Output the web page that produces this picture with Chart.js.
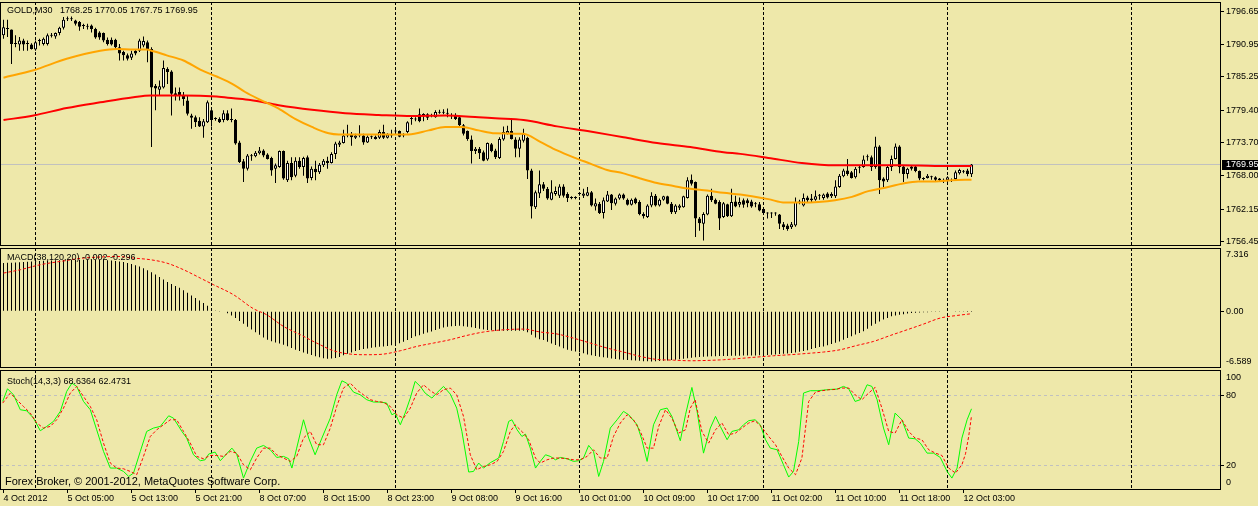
<!DOCTYPE html>
<html lang="en">
<head>
  <meta charset="UTF-8">
  <title>GOLD,M30</title>
  <script src="https://cdn.jsdelivr.net/npm/chart.js"></script>
  <style>
    body {
      margin: 0;
      background-color: #eee8aa;
      width: 1258px;
      height: 506px;
      overflow: hidden;
      position: relative;
      font-family: "Liberation Sans", Arial, sans-serif;
    }
    canvas { position: absolute; left: 0; }
    .lbl {
      position: absolute;
      font-size: 9px;
      line-height: 11px;
      color: #000;
      white-space: pre;
    }
  </style>
</head>
<body>
  <canvas id="priceChart" width="1258" height="247" style="top:0px"></canvas>
  <canvas id="macdChart" width="1258" height="122" style="top:247px"></canvas>
  <canvas id="stochChart" width="1258" height="137" style="top:369px"></canvas>

  <div class="lbl" style="left:7px;top:5px">GOLD,M30   1768.25 1770.05 1767.75 1769.95</div>
  <div class="lbl" style="left:7px;top:252px">MACD(38,120,20) -0.002 -0.296</div>
  <div class="lbl" style="left:7px;top:376px">Stoch(14,3,3) 68.6364 62.4731</div>
  <div class="lbl" style="left:5px;top:475px;font-size:11px;line-height:13px">Forex Broker, © 2001-2012, MetaQuotes Software Corp.</div>

  <script>
    // ---- data (bar index 0 = 4 Oct 2012, M30 bars) ----
    const open = [
      1792.5,1793.6,1793.5,1791.1,1790.9,1791.6,1791.1,1790.9,1790.0,1791.5,
      1791.0,1791.0,1792.4,1792.3,1792.9,1793.8,1795.3,1795.3,1795.1,1794.8,
      1794.3,1794.1,1794.2,1793.6,1793.0,1792.9,1791.7,1791.7,1791.7,1790.4,
      1789.6,1789.0,1788.6,1789.8,1789.8,1790.7,1791.3,1790.1,1783.7,1783.0,
      1783.4,1786.6,1786.2,1782.4,1782.6,1782.0,1781.1,1778.5,1778.2,1777.6,
      1776.6,1777.3,1779.4,1778.0,1777.9,1777.7,1778.9,1777.8,1777.7,1773.8,
      1770.5,1769.2,1771.4,1771.4,1771.9,1772.4,1771.7,1771.1,1769.2,1769.5,
      1772.3,1767.2,1770.2,1768.0,1770.6,1769.5,1771.2,1767.6,1769.2,1768.6,
      1769.8,1770.6,1770.2,1771.8,1773.4,1773.7,1775.0,1775.2,1774.6,1775.1,
      1775.0,1773.8,1774.8,1774.8,1774.6,1775.6,1774.6,1775.1,1775.8,1775.8,
      1775.1,1775.6,1777.9,1777.8,1778.7,1778.6,1778.7,1778.4,1778.2,1779.0,
      1779.0,1779.0,1778.6,1778.5,1778.2,1776.8,1775.8,1774.3,1772.3,1772.7,
      1772.1,1770.8,1773.5,1772.4,1771.1,1774.3,1775.3,1775.8,1774.3,1772.7,
      1774.1,1774.6,1768.9,1762.5,1764.9,1766.5,1765.7,1763.8,1764.8,1764.5,
      1766.1,1764.8,1764.2,1764.2,1764.9,1764.5,1764.5,1765.1,1762.6,1763.1,
      1761.5,1763.5,1764.7,1763.1,1764.0,1764.7,1763.8,1762.9,1764.0,1763.4,
      1761.3,1760.8,1762.8,1764.5,1762.8,1763.8,1764.4,1763.1,1761.6,1762.4,
      1762.5,1764.1,1767.3,1766.9,1760.5,1759.6,1761.2,1764.5,1763.8,1763.4,
      1760.8,1763.0,1760.9,1763.5,1762.9,1763.7,1763.7,1763.5,1763.1,1763.0,
      1762.2,1761.5,1761.5,1761.5,1761.2,1759.5,1759.3,1759.0,1759.3,1763.3,
      1762.8,1764.2,1764.0,1763.8,1764.6,1764.1,1764.9,1764.4,1764.4,1766.0,
      1767.9,1768.9,1768.6,1767.7,1769.5,1769.5,1771.3,1771.2,1769.5,1773.1,
      1767.5,1767.2,1769.5,1770.9,1773.1,1769.6,1768.3,1769.6,1769.6,1768.8,
      1767.5,1767.6,1767.8,1767.7,1767.5,1767.2,1767.2,1767.2,1767.4,1768.4,
      1768.8,1768.9,1768.25
    ];
    const high = [
      1795.2,1795.2,1793.5,1792.5,1792.2,1791.9,1791.6,1791.1,1791.6,1791.9,
      1792.1,1792.8,1792.9,1793.0,1794.0,1795.7,1795.8,1795.8,1795.2,1795.0,
      1794.5,1794.5,1794.4,1793.8,1793.2,1793.0,1792.1,1792.1,1791.9,1791.0,
      1789.8,1789.3,1789.8,1790.1,1791.9,1792.3,1791.6,1790.4,1784.0,1784.6,
      1788.1,1786.9,1786.4,1783.4,1783.4,1782.6,1782.0,1778.8,1778.5,1778.2,
      1777.9,1781.1,1779.7,1778.2,1778.2,1779.4,1779.4,1779.7,1777.9,1774.1,
      1770.9,1771.8,1771.8,1772.3,1773.0,1772.6,1771.9,1771.3,1770.1,1772.4,
      1772.4,1770.6,1771.2,1771.2,1771.2,1771.3,1771.5,1769.6,1770.6,1770.2,
      1770.9,1771.3,1772.1,1773.9,1774.1,1776.0,1776.9,1775.6,1775.3,1776.8,
      1775.3,1775.0,1775.0,1775.0,1776.0,1776.9,1775.4,1776.0,1776.0,1775.9,
      1775.4,1777.5,1778.5,1778.2,1779.7,1778.9,1778.9,1778.8,1779.4,1779.5,
      1779.6,1779.7,1778.9,1778.9,1778.5,1777.0,1775.9,1775.0,1773.0,1773.0,
      1772.4,1773.8,1773.7,1772.7,1774.7,1776.6,1776.7,1777.7,1774.7,1774.7,
      1776.2,1774.8,1769.2,1765.4,1768.9,1766.9,1766.0,1767.2,1766.1,1766.5,
      1766.5,1765.1,1764.4,1764.4,1765.1,1765.7,1766.0,1765.3,1764.0,1763.4,
      1764.2,1765.3,1764.8,1764.2,1764.9,1764.9,1764.0,1764.0,1764.2,1763.7,
      1761.6,1763.0,1765.1,1764.8,1764.0,1764.5,1764.5,1763.4,1763.0,1763.0,
      1764.5,1767.7,1768.2,1767.0,1760.8,1761.6,1764.7,1765.7,1764.0,1763.7,
      1763.4,1763.1,1765.7,1764.5,1764.2,1764.0,1764.0,1763.8,1763.4,1763.4,
      1762.5,1761.6,1761.6,1761.6,1761.3,1759.9,1759.6,1759.9,1764.2,1763.8,
      1764.9,1764.5,1764.8,1765.4,1764.8,1764.9,1765.1,1765.1,1767.2,1768.3,
      1769.2,1770.9,1768.8,1769.5,1769.8,1771.5,1771.7,1771.5,1774.8,1773.3,
      1767.7,1769.8,1771.5,1773.6,1773.3,1769.8,1769.4,1769.8,1769.8,1768.9,
      1767.7,1768.3,1768.0,1767.9,1767.6,1767.5,1767.9,1767.5,1768.9,1769.2,
      1769.0,1769.2,1770.05
    ];
    const low = [
      1791.9,1792.2,1787.5,1790.4,1789.8,1789.8,1789.8,1790.0,1789.8,1790.7,
      1790.7,1790.7,1792.1,1791.9,1792.5,1793.5,1795.0,1795.0,1794.2,1793.3,
      1793.6,1793.5,1793.0,1791.9,1791.7,1791.3,1790.7,1790.7,1790.1,1788.1,
      1788.1,1788.1,1788.2,1789.0,1789.6,1790.4,1787.8,1773.0,1779.4,1782.0,
      1783.2,1784.0,1778.5,1781.1,1781.1,1780.2,1778.5,1776.2,1776.5,1776.5,
      1774.6,1777.2,1776.6,1777.6,1777.2,1777.3,1777.6,1777.3,1773.4,1770.2,
      1766.9,1768.9,1770.6,1771.2,1771.7,1771.2,1770.8,1768.0,1766.7,1769.4,
      1767.3,1766.9,1767.2,1767.7,1769.2,1768.0,1766.7,1767.2,1767.2,1768.3,
      1769.5,1769.2,1770.1,1770.9,1773.0,1773.6,1774.7,1773.2,1774.4,1774.7,
      1773.4,1773.7,1774.4,1774.3,1774.4,1774.4,1774.5,1774.6,1775.4,1774.7,
      1774.7,1775.4,1776.9,1777.5,1777.3,1777.5,1777.7,1778.2,1778.1,1778.8,
      1778.7,1778.2,1777.9,1777.7,1776.6,1775.0,1774.1,1770.1,1771.8,1770.9,
      1770.5,1770.6,1772.1,1770.9,1770.9,1774.1,1775.2,1774.3,1771.2,1771.2,
      1773.8,1767.4,1760.5,1762.2,1764.1,1765.3,1763.8,1763.7,1764.5,1764.1,
      1764.2,1763.4,1763.9,1763.9,1764.5,1764.1,1764.4,1762.6,1761.9,1761.3,
      1760.5,1763.4,1762.0,1762.8,1763.8,1763.8,1762.8,1762.8,1763.0,1761.1,
      1760.5,1760.6,1762.5,1762.6,1762.6,1763.6,1763.0,1761.3,1761.3,1762.0,
      1762.4,1764.0,1766.3,1757.3,1758.4,1756.7,1761.1,1763.4,1763.0,1758.5,
      1760.6,1760.8,1760.8,1762.5,1762.5,1762.4,1762.5,1762.4,1762.5,1761.8,
      1761.3,1760.5,1760.6,1761.0,1758.7,1758.5,1758.4,1758.7,1759.1,1763.0,
      1762.6,1763.4,1763.4,1763.6,1763.8,1763.8,1764.0,1764.1,1764.1,1765.9,
      1767.7,1768.0,1767.5,1767.5,1768.4,1769.4,1770.6,1768.8,1769.2,1764.8,
      1766.0,1766.9,1768.8,1770.8,1768.4,1766.9,1767.5,1768.9,1768.6,1767.2,
      1767.2,1767.5,1767.3,1767.0,1766.9,1766.7,1766.9,1766.9,1767.2,1768.2,
      1768.4,1767.9,1767.75
    ];
    const close = [
      1793.9,1793.7,1791.0,1791.0,1791.6,1790.9,1791.0,1790.1,1791.3,1791.6,
      1791.9,1792.5,1792.5,1792.9,1793.8,1795.2,1795.4,1795.4,1794.5,1794.0,
      1794.1,1794.0,1793.6,1792.1,1792.1,1791.6,1791.0,1790.9,1790.4,1789.3,
      1789.0,1788.4,1789.3,1789.3,1791.6,1791.5,1790.1,1783.4,1783.2,1783.6,
      1786.8,1786.1,1782.3,1782.0,1782.0,1781.4,1778.8,1778.1,1777.3,1776.6,
      1777.5,1780.8,1777.7,1777.9,1777.3,1778.9,1777.7,1777.7,1773.6,1770.4,
      1769.2,1771.5,1771.5,1772.0,1772.4,1771.5,1770.9,1768.9,1769.8,1772.3,
      1767.5,1770.2,1767.7,1770.6,1769.5,1771.1,1767.5,1769.2,1768.6,1769.9,
      1770.6,1770.2,1771.8,1773.6,1773.8,1775.0,1775.1,1774.7,1775.0,1775.0,
      1773.8,1774.8,1774.7,1774.4,1775.6,1774.6,1775.2,1775.0,1775.7,1774.8,
      1775.0,1777.3,1778.0,1777.9,1777.5,1778.7,1778.1,1778.6,1779.1,1779.1,
      1779.1,1778.8,1778.4,1777.9,1776.8,1775.3,1774.4,1772.3,1772.7,1771.9,
      1770.6,1773.7,1772.3,1771.2,1774.4,1775.6,1775.8,1774.4,1772.7,1774.3,
      1775.3,1768.9,1762.6,1765.1,1766.5,1765.7,1764.0,1765.1,1765.3,1766.1,
      1764.5,1764.1,1764.1,1764.1,1764.8,1764.9,1765.1,1762.8,1763.2,1761.5,
      1763.7,1764.7,1763.2,1764.0,1764.7,1764.0,1762.9,1763.8,1763.2,1761.3,
      1760.9,1762.8,1764.5,1762.8,1763.8,1764.4,1763.1,1761.6,1762.8,1762.8,
      1764.4,1767.2,1766.6,1760.5,1759.7,1761.3,1764.5,1763.7,1763.1,1760.5,
      1763.2,1760.9,1763.4,1762.6,1763.4,1762.9,1763.2,1762.6,1763.0,1761.9,
      1761.5,1761.4,1761.4,1761.4,1759.6,1759.0,1758.7,1759.5,1763.4,1763.4,
      1764.1,1763.7,1763.7,1764.4,1764.5,1764.7,1764.2,1764.8,1766.1,1768.0,
      1768.9,1768.3,1767.6,1769.2,1769.4,1770.8,1771.2,1769.5,1773.1,1767.2,
      1767.0,1769.5,1770.9,1773.1,1769.5,1768.3,1769.2,1769.2,1768.8,1767.5,
      1767.4,1768.0,1767.7,1767.3,1767.2,1767.1,1767.7,1767.1,1768.6,1769.0,
      1768.7,1768.3,1769.95
    ];

    // moving averages, read as [bar, price]
    const maFastPts = [
      [0,1785.1],[7.5,1786.4],[15.8,1788.4],[24.2,1789.8],[28.3,1790.1],[32.5,1790.0],[35.8,1790.0],
      [37.5,1789.7],[40.8,1789.0],[45,1788.1],[49.2,1786.5],[53.3,1785.3],[57.5,1783.9],[60.4,1782.6],
      [64.6,1781.1],[68.8,1779.7],[72.9,1777.9],[77.1,1776.5],[81.3,1775.4],[83.8,1775.2],[93.8,1775.2],
      [101.3,1775.2],[106.3,1775.9],[110.4,1776.5],[114.6,1776.5],[118.8,1775.9],[122.9,1775.4],[130,1775.3],
      [134.2,1773.9],[138.4,1772.4],[142.5,1771.2],[146.7,1770.1],[150.9,1769.0],[155,1768.4],[159.2,1767.5],
      [163.4,1766.7],[167.5,1766.2],[171.7,1765.7],[175.9,1765.4],[180,1765.0],[184.2,1764.7],[187.1,1764.4],
      [191.2,1763.9],[195.4,1763.3],[199.6,1763.3],[203.7,1763.4],[207.9,1763.7],[212.1,1764.3],[216.2,1765.3],
      [220.4,1765.9],[224.6,1766.6],[228.7,1767.0],[232.9,1767.0],[237.1,1767.2],[242,1767.3]
    ];
    const maSlowPts = [
      [0,1777.7],[7.5,1778.5],[15.8,1779.8],[24.2,1780.8],[32.5,1781.7],[36.7,1782.0],[45,1782.0],
      [53.3,1781.8],[57.5,1781.5],[61.7,1781.2],[68.8,1780.3],[77.1,1779.5],[85.4,1778.9],[93.8,1778.6],
      [102.1,1778.4],[110.4,1778.5],[118.8,1778.2],[122.9,1778.0],[130,1777.7],[138.4,1776.6],[146.7,1775.7],
      [155,1774.7],[163.4,1773.7],[171.7,1773.0],[180,1772.1],[184.2,1771.8],[191.2,1771.1],[199.6,1770.2],
      [207.9,1769.8],[216.2,1769.8],[224.6,1769.8],[232.9,1769.7],[242,1769.7]
    ];

    // MACD(38,120,20): histogram per bar, signal as [bar, value]
    const macdMain = [
      5.57,5.60,5.62,5.65,5.67,5.69,5.72,5.75,5.78,5.81,
      5.84,5.86,5.88,5.89,5.91,5.92,5.93,5.94,5.95,5.96,
      5.96,5.97,5.97,5.96,5.96,5.94,5.91,5.88,5.82,5.76,
      5.69,5.58,5.46,5.33,5.18,4.98,4.75,4.52,4.25,3.96,
      3.66,3.38,3.15,2.91,2.70,2.43,2.12,1.82,1.52,1.22,
      0.93,0.62,0.30,0.03,-0.03,-0.08,-0.25,-0.50,-0.80,-1.15,
      -1.45,-1.80,-2.12,-2.45,-2.75,-3.05,-3.32,-3.48,-3.62,-3.75,
      -3.89,-4.08,-4.27,-4.46,-4.62,-4.78,-4.93,-5.08,-5.22,-5.35,
      -5.45,-5.52,-5.50,-5.42,-5.30,-5.12,-4.95,-4.78,-4.62,-4.50,
      -4.40,-4.32,-4.25,-4.18,-4.12,-4.09,-4.03,-3.95,-3.85,-3.73,
      -3.55,-3.35,-3.12,-2.92,-2.78,-2.62,-2.48,-2.36,-2.20,-2.05,
      -1.90,-1.80,-1.74,-1.71,-1.70,-1.74,-1.80,-1.88,-1.95,-2.03,
      -2.12,-2.18,-2.22,-2.26,-2.27,-2.27,-2.28,-2.27,-2.27,-2.26,
      -2.27,-2.45,-2.73,-3.05,-3.25,-3.35,-3.55,-3.75,-3.92,-4.10,
      -4.30,-4.47,-4.58,-4.68,-4.76,-4.88,-5.02,-5.12,-5.20,-5.28,
      -5.35,-5.40,-5.48,-5.55,-5.60,-5.63,-5.66,-5.70,-5.72,-5.75,
      -5.80,-5.82,-5.83,-5.80,-5.78,-5.75,-5.71,-5.67,-5.63,-5.58,
      -5.52,-5.46,-5.40,-5.35,-5.31,-5.29,-5.27,-5.24,-5.22,-5.20,
      -5.20,-5.19,-5.18,-5.17,-5.16,-5.15,-5.15,-5.14,-5.13,-5.12,
      -5.10,-5.08,-5.05,-5.02,-4.98,-4.94,-4.90,-4.85,-4.78,-4.70,
      -4.62,-4.52,-4.40,-4.27,-4.15,-4.09,-3.95,-3.82,-3.67,-3.51,
      -3.32,-3.12,-2.90,-2.72,-2.52,-2.32,-2.05,-1.70,-1.45,-1.20,
      -0.98,-0.80,-0.60,-0.50,-0.42,-0.35,-0.28,-0.22,-0.18,-0.15,
      -0.13,-0.12,-0.11,-0.10,-0.09,-0.08,-0.07,-0.06,-0.05,-0.04,
      -0.03,-0.02,-0.002
    ];
    const macdSignalPts = [
      [0,4.41],[4.2,4.80],[9.2,5.38],[14.2,5.76],[20,6.15],[24.2,6.27],[28.3,6.34],[32.5,6.15],
      [36.7,5.96],[40.8,5.57],[45,4.80],[49.2,3.83],[52.5,3.06],[57.5,1.90],[62.5,0.28],[65.8,-0.42],
      [70,-1.77],[74.2,-2.73],[78.3,-3.70],[82.5,-4.59],[86.7,-4.98],[90.8,-5.05],[95,-4.98],[99.2,-4.59],
      [103.3,-4.09],[107.5,-3.70],[111.7,-3.31],[115.8,-2.82],[120,-2.42],[124.2,-2.19],[130,-2.08],
      [134.2,-2.42],[138.4,-2.65],[142.5,-3.13],[146.7,-3.70],[150.9,-4.28],[155,-4.74],[159.2,-5.25],
      [163.4,-5.60],[167.5,-5.68],[171.7,-5.75],[175.9,-5.71],[180,-5.63],[184.2,-5.48],[188.4,-5.32],
      [192.5,-5.17],[196.7,-5.05],[200.9,-4.90],[205,-4.74],[209.2,-4.47],[213.4,-3.97],[217.5,-3.51],
      [221.7,-2.82],[225.9,-2.16],[230,-1.50],[234.2,-0.80],[238.4,-0.50],[242,-0.30]
    ];

    // Stochastic(14,3,3) as [bar, value]
    const stochMainPts = [
      [-0.2,74.9],[1.0,85.8],[2.5,80.6],[4.2,67.8],[5.8,66.9],[7.5,60.6],[9.2,49.8],[10.8,53.5],[12.5,57.8],
      [14.2,66.4],[15.8,83.5],[17.1,90.6],[18.3,87.8],[20,74.9],[21.7,67.8],[23.3,50.6],[25,32.1],[26.7,17.8],
      [28.3,17.8],[30,14.9],[31.3,10.6],[32.5,13.5],[34.2,32.1],[35.8,49.2],[37.5,52.1],[39.2,53.5],[41.3,62.6],
      [42.5,60.6],[44.6,49.2],[45.8,43.5],[47.5,29.2],[49.2,24.1],[50.4,24.9],[51.3,29.8],[52.9,31.5],[54.2,24.1],
      [55.4,28.6],[57.1,34.9],[58.3,29.8],[60,9.2],[61.7,23.5],[63.3,34.9],[65,37.2],[66.7,33.5],[68.3,26.9],
      [70,27.8],[71.3,25.8],[72.1,17.8],[73.3,34.9],[75,59.2],[76.3,43.5],[77.9,29.2],[79.6,43.5],[81.7,60.6],
      [83.3,80.6],[84.6,92.6],[85.8,90.6],[87.5,82.9],[89.2,80.6],[90.8,76.4],[92.5,74.4],[94.2,74.4],[95.8,73.5],
      [97.1,63.5],[97.9,64.9],[99.2,54.9],[100.4,64.9],[101.7,77.8],[102.9,92.1],[104.2,87.8],[105.4,82.1],
      [107.1,77.8],[108.3,82.1],[110,87.8],[111.7,81.2],[113.3,69.2],[114.6,49.2],[116.3,14.4],[117.5,14.9],
      [118.8,22.1],[120,17.8],[121.7,22.4],[123.8,26.4],[125,40.6],[126.3,57.8],[127.1,59.2],[128.4,50.6],
      [129.6,44.9],[130.5,46.9],[131.7,34.9],[133,17.8],[134.2,23.5],[135.5,29.2],[136.7,27.8],[138,24.9],
      [139.2,26.9],[140.9,25.8],[142.5,23.5],[143.8,24.1],[145,26.4],[146.3,37.2],[147.5,32.1],[148.8,10.6],
      [150,23.5],[151.7,52.1],[153.4,59.2],[155,66.4],[156.3,63.5],[158.4,54.9],[159.6,42.1],[160.9,23.5],
      [162.5,54.9],[164.2,67.8],[165.9,69.2],[167.1,62.1],[169.2,41.2],[170.5,63.5],[172.1,86.9],[173.4,66.4],
      [175,30.6],[176.7,52.1],[178,62.1],[179.2,53.5],[180.9,42.1],[182.1,49.2],[183.8,50.6],[185,54.9],
      [186.3,58.4],[187.9,59.2],[189.2,54.9],[190.5,42.1],[191.7,34.9],[193.4,33.5],[195,20.6],[196.3,10.1],
      [197.5,14.9],[198.8,40.6],[200,82.1],[201.7,84.1],[203.4,84.1],[205,84.6],[206.7,85.2],[208.4,85.5],
      [210,87.8],[211.3,85.8],[212.9,74.9],[214.2,76.4],[215.9,89.2],[217.1,87.8],[218.4,76.4],[220,52.1],
      [221.3,37.8],[222.9,64.9],[224.6,59.2],[226.3,43.5],[227.9,42.9],[229.2,39.2],[230.9,30.6],[232.5,30.6],
      [234.2,26.9],[235.9,14.9],[237.1,9.2],[238.4,17.8],[239.6,43.5],[240.9,59.2],[242,68.6]
    ];
    const stochSignalPts = [
      [-0.2,73.5],[1.7,82.1],[3.3,76.4],[5,70.6],[6.7,64.9],[8.3,56.4],[10,52.1],[11.7,53.5],[13.3,59.2],
      [15,69.2],[16.7,82.1],[18.3,87.8],[20,79.2],[21.7,70.6],[23.3,59.2],[25,39.2],[26.7,22.1],[28.3,17.8],
      [30,17.2],[31.7,14.9],[33.3,12.1],[35,27.8],[36.7,44.9],[38.3,50.6],[40,54.9],[41.7,59.2],[43.3,59.2],
      [45,49.2],[46.7,39.2],[48.3,27.8],[50,25.8],[51.7,28.6],[53.3,28.6],[55,27.8],[56.7,32.1],[58.3,30.6],
      [60,20.6],[61.7,16.4],[63.3,26.4],[65,34.9],[66.7,34.9],[68.3,29.2],[70,26.4],[71.7,23.5],[73.3,27.8],
      [75,43.5],[76.7,49.2],[78.3,37.8],[80,37.8],[81.7,52.1],[83.3,70.6],[85,86.4],[86.7,90.6],[88.3,84.9],
      [90,80.6],[91.7,76.4],[93.3,74.9],[95,74.1],[96.7,70.6],[98.3,63.5],[100,60.6],[101.7,69.2],[103.3,82.1],
      [105,89.2],[106.7,84.1],[108.3,80.6],[110,84.9],[111.7,86.4],[113.3,80.6],[115,62.1],[116.7,29.2],
      [118.3,16.4],[120,19.2],[121.7,20.6],[123.4,23.5],[125,32.1],[126.7,49.2],[127.9,54.9],[129.6,49.2],
      [131.3,42.1],[133,26.4],[134.2,22.1],[135.9,24.9],[137.5,26.4],[139.2,26.4],[140.9,25.8],[142.5,24.9],
      [144.2,24.9],[145.9,27.8],[147.5,33.5],[149.2,26.4],[150.9,26.4],[152.5,44.9],[154.2,56.4],[155.9,63.5],
      [157.5,59.2],[159.2,49.2],[160.9,34.9],[162.5,34.9],[163.8,53.5],[165.5,67.8],[167.1,60.6],[168.8,47.8],
      [170.5,50.6],[171.7,69.2],[172.9,76.4],[174.6,49.2],[176.3,39.2],[178,50.6],[179.6,56.4],[181.3,46.4],
      [183,47.8],[184.6,52.1],[186.3,56.4],[187.9,58.4],[189.6,52.6],[191.3,44.9],[193,37.8],[194.6,27.8],
      [196.3,17.8],[198,12.1],[199.6,26.4],[201.3,74.9],[203,82.9],[204.6,84.1],[206.3,84.9],[208,85.2],
      [209.6,86.4],[211.3,86.4],[212.9,80.6],[214.6,76.4],[216.3,82.1],[217.9,86.9],[219.6,69.2],[221.3,49.2],
      [222.9,47.8],[224.6,59.2],[226.3,49.2],[227.9,43.5],[229.6,42.1],[231.3,33.5],[233,30.6],[234.6,28.6],
      [236.3,17.8],[238,13.5],[239.6,20.6],[240.5,30],[241.3,45],[242,62.5]
    ];

    // axes
    const priceTicks = [1796.65, 1790.95, 1785.25, 1779.40, 1773.70, 1768.00, 1762.15, 1756.45];
    const macdTickPos = [6.58, 0, -5.87];
    const macdTickLabels = ['7.316', '0.00', '-6.589'];
    const stochTickPos = [95.3, 80, 20, 5.6];
    const stochTickLabels = ['100', '80', '20', '0'];
    const stochLevels = [80, 20];
    const gridBars = [8, 52, 98, 144, 190, 236, 282];
    const timeTicks = [0, 16, 32, 48, 64, 80, 96, 112, 128, 144, 160, 176, 192, 208, 224, 240];
    const timeLabels = ['4 Oct 2012', '5 Oct 05:00', '5 Oct 13:00', '5 Oct 21:00', '8 Oct 07:00', '8 Oct 15:00',
      '8 Oct 23:00', '9 Oct 08:00', '9 Oct 16:00', '10 Oct 01:00', '10 Oct 09:00', '10 Oct 17:00',
      '11 Oct 02:00', '11 Oct 10:00', '11 Oct 18:00', '12 Oct 03:00'];

    const X_MIN = -0.875, X_MAX = 304.375;
    const lastClose = close[close.length - 1];

    Chart.defaults.font.family = '"Liberation Sans", Arial, sans-serif';
    Chart.defaults.font.size = 9;
    Chart.defaults.color = '#000';
    Chart.defaults.animation = false;
    Chart.defaults.events = [];
    Chart.defaults.plugins.legend.display = false;
    Chart.defaults.plugins.tooltip.enabled = false;

    const pts = a => a.map(([x, y]) => ({x, y}));

    // black frame around every pane
    const frame = {
      id: 'frame',
      afterDraw(chart) {
        const a = chart.chartArea, ctx = chart.ctx;
        ctx.save();
        ctx.strokeStyle = '#000';
        ctx.lineWidth = 1;
        ctx.strokeRect(a.left + 0.5, a.top + 0.5, a.right - a.left - 1, a.bottom - a.top - 1);
        ctx.restore();
      }
    };

    // black box with the current price on the price axis
    const bidBox = {
      id: 'bidBox',
      afterDraw(chart) {
        const ctx = chart.ctx;
        const y = Math.floor(chart.scales.y.getPixelForValue(lastClose));
        ctx.save();
        ctx.fillStyle = '#000';
        ctx.fillRect(1222, y - 4, 36, 10);
        ctx.fillStyle = '#fff';
        ctx.font = '9px "Liberation Sans", Arial, sans-serif';
        ctx.textBaseline = 'middle';
        ctx.textAlign = 'left';
        ctx.fillText(lastClose.toFixed(2), 1226, y + 1);
        ctx.restore();
      }
    };

    function gridAxis() {
      return {
        type: 'linear', position: 'bottom', min: X_MIN, max: X_MAX, offset: false,
        afterBuildTicks: s => { s.ticks = gridBars.map(v => ({value: v})); },
        ticks: {display: false},
        grid: {color: '#000', lineWidth: 1, drawTicks: false, offset: false},
        border: {display: false, dash: [3, 2]},
        afterFit: s => { s.height = 0; s.paddingLeft = 0; s.paddingRight = 0; }
      };
    }

    function rightAxis(min, max, pos, labels, marks, levels) {
      return {
        type: 'linear', position: 'right', min, max, beginAtZero: false,
        afterBuildTicks: s => { s.ticks = pos.map(v => ({value: v})); },
        ticks: {autoSkip: false, padding: 2, color: '#000', callback: (v, i) => labels[i]},
        grid: {
          drawOnChartArea: levels.length > 0, drawTicks: true, tickLength: 3, lineWidth: 1,
          color: c => (c.tick && levels.includes(c.tick.value)) ? '#c0c0c0' : 'rgba(0,0,0,0)',
          tickColor: c => (c.tick && marks.includes(c.tick.value)) ? '#000' : 'rgba(0,0,0,0)'
        },
        border: {display: false, dash: [3, 3]},
        afterFit: s => { s.width = 37; s.paddingTop = 0; s.paddingBottom = 0; }
      };
    }

    // price pane
    new Chart(document.getElementById('priceChart'), {
      type: 'bar',
      data: {
        datasets: [
          {type: 'line', data: pts(maFastPts), borderColor: '#ffa500', borderWidth: 2, pointRadius: 0,
           cubicInterpolationMode: 'monotone', order: 0},
          {type: 'line', data: pts(maSlowPts), borderColor: '#ff0000', borderWidth: 2, pointRadius: 0,
           cubicInterpolationMode: 'monotone', order: 1},
          {data: open.map((o, i) => ({x: i, y: [o, close[i]]})),
           backgroundColor: open.map((o, i) => close[i] >= o ? '#ffffff' : '#000000'),
           borderColor: '#000', borderWidth: 1, borderSkipped: false, barThickness: 3,
           grouped: false, minBarLength: 1, inflateAmount: 0, order: 2},
          {data: high.map((h, i) => ({x: i, y: [low[i], h]})),
           backgroundColor: '#000', barThickness: 1, grouped: false, inflateAmount: 0, order: 3},
          {type: 'line', data: [{x: X_MIN, y: lastClose}, {x: X_MAX, y: lastClose}],
           borderColor: '#c0c0c0', borderWidth: 1, pointRadius: 0, order: 4}
        ]
      },
      options: {
        responsive: false,
        layout: {autoPadding: false, padding: {top: 2, bottom: 1, left: 0, right: 0}},
        scales: {
          x: gridAxis(),
          y: rightAxis(1755.72, 1798.31, priceTicks, priceTicks.map(v => v.toFixed(2)), priceTicks, [])
        }
      },
      plugins: [frame, bidBox]
    });

    // MACD pane
    new Chart(document.getElementById('macdChart'), {
      type: 'bar',
      data: {
        datasets: [
          {type: 'line', data: pts(macdSignalPts), borderColor: '#ff0000', borderWidth: 1, borderDash: [3, 2],
           pointRadius: 0, cubicInterpolationMode: 'monotone', order: 0},
          {data: macdMain.map((v, i) => ({x: i, y: v})), backgroundColor: '#000', barThickness: 1,
           grouped: false, inflateAmount: 0, order: 1}
        ]
      },
      options: {
        responsive: false,
        layout: {autoPadding: false, padding: {top: 1, bottom: 1, left: 0, right: 0}},
        scales: {
          x: gridAxis(),
          y: rightAxis(-6.589, 7.316, macdTickPos, macdTickLabels, [0], [])
        }
      },
      plugins: [frame]
    });

    // Stochastic pane with the time axis
    const stochOpts = {
      responsive: false,
      layout: {autoPadding: false, padding: {top: 1, bottom: 0, left: 0, right: 0}},
      scales: {
        x: gridAxis(),
        x2: {
          type: 'linear', position: 'bottom', min: X_MIN, max: X_MAX, offset: false,
          afterBuildTicks: s => { s.ticks = timeTicks.map(v => ({value: v})); },
          ticks: {autoSkip: false, maxRotation: 0, minRotation: 0, align: 'start', padding: 0,
                  color: '#000', callback: (v, i) => timeLabels[i]},
          grid: {drawOnChartArea: false, drawTicks: true, tickLength: 3, color: '#000', offset: false},
          border: {display: false},
          afterFit: s => { s.height = 16; s.paddingLeft = 0; s.paddingRight = 0; }
        },
        y: rightAxis(-1.0, 101.86, stochTickPos, stochTickLabels, stochLevels, stochLevels)
      }
    };
    new Chart(document.getElementById('stochChart'), {
      type: 'line',
      data: {
        datasets: [
          {data: pts(stochSignalPts), borderColor: '#ff0000', borderWidth: 1, borderDash: [3, 2],
           pointRadius: 0, tension: 0, order: 0},
          {data: pts(stochMainPts), borderColor: '#00ff00', borderWidth: 1, pointRadius: 0, tension: 0, order: 1}
        ]
      },
      options: stochOpts,
      plugins: [frame]
    });
  </script>
</body>
</html>
